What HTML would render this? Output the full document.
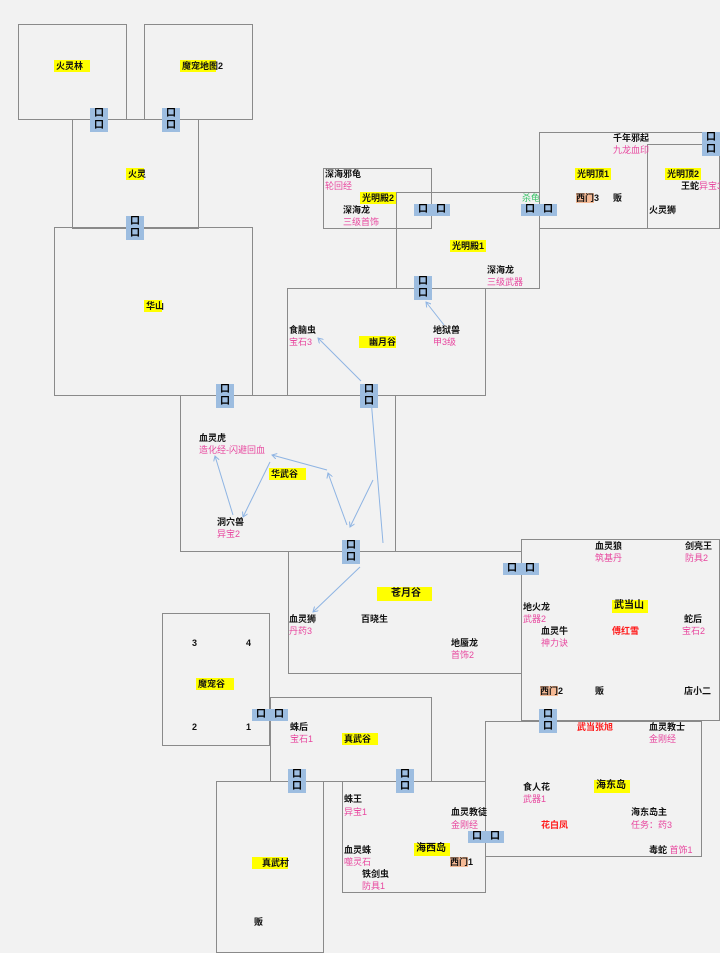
<!DOCTYPE html>
<html><head><meta charset="utf-8"><style>
html,body{margin:0;padding:0}
body{width:720px;height:953px;background:#f2f2f2;position:relative;overflow:hidden;font-family:"Liberation Sans","Noto Sans CJK SC",sans-serif;font-size:9px;font-weight:bold}
.b{position:absolute;border:1px solid #8a8a8a;box-sizing:border-box}
.t{position:absolute;white-space:nowrap;line-height:12px;color:#111}
.p{color:#e8479f;font-weight:normal}
.r{color:#ff1a1a}
.g{color:#3cc46a;font-weight:normal}
.h{position:absolute;background:#ffff00;line-height:12px;height:12px;color:#111;padding-left:2px;box-sizing:border-box;white-space:nowrap;overflow:visible}
.o{background:#f4b995}
.d{position:absolute;background:#9dbde0;}
.d span{position:absolute;width:18px;height:12px;line-height:12px;text-align:center;font-size:10px;color:#000}
svg{position:absolute;left:0;top:0}
</style></head><body>
<!-- boxes -->
<div class="b" style="left:18px;top:24px;width:109px;height:96px"></div>
<div class="b" style="left:144px;top:24px;width:109px;height:96px"></div>
<div class="b" style="left:72px;top:119px;width:127px;height:110px"></div>
<div class="b" style="left:54px;top:227px;width:199px;height:169px"></div>
<div class="b" style="left:396px;top:192px;width:144px;height:97px"></div>
<div class="b" style="left:323px;top:168px;width:109px;height:61px"></div>
<div class="b" style="left:539px;top:132px;width:181px;height:97px"></div>
<div class="b" style="left:647px;top:144px;width:73px;height:85px"></div>
<div class="b" style="left:287px;top:288px;width:199px;height:108px"></div>
<div class="b" style="left:180px;top:395px;width:216px;height:157px"></div>
<div class="b" style="left:288px;top:551px;width:234px;height:123px"></div>
<div class="b" style="left:521px;top:539px;width:199px;height:182px"></div>
<div class="b" style="left:162px;top:613px;width:108px;height:133px"></div>
<div class="b" style="left:270px;top:697px;width:162px;height:85px"></div>
<div class="b" style="left:485px;top:721px;width:217px;height:136px"></div>
<div class="b" style="left:216px;top:781px;width:108px;height:172px"></div>
<div class="b" style="left:342px;top:781px;width:144px;height:112px"></div>

<svg width="720" height="953">
<defs><marker id="a" markerWidth="6" markerHeight="6" refX="5" refY="3" orient="auto"><path d="M0,0 L5,3 L0,6" fill="none" stroke="#8eb4e3" stroke-width="1"/></marker></defs>
<g stroke="#8eb4e3" stroke-width="1" fill="none" marker-end="url(#a)">
<line x1="444" y1="325" x2="426" y2="302"/>
<line x1="361" y1="381" x2="318" y2="338"/>
<line x1="383" y1="543" x2="370" y2="387"/>
<line x1="373" y1="480" x2="350" y2="527"/>
<line x1="347" y1="525" x2="328" y2="473"/>
<line x1="327" y1="470" x2="272" y2="455"/>
<line x1="270" y1="462" x2="243" y2="517"/>
<line x1="233" y1="515" x2="215" y2="456"/>
<line x1="360" y1="567" x2="313" y2="612"/>
</g></svg>

<!-- doors -->
<div class="d" style="left:90px;top:108px;width:18px;height:24px"><span style="top:0">口</span><span style="top:12px">口</span></div>
<div class="d" style="left:162px;top:108px;width:18px;height:24px"><span style="top:0">口</span><span style="top:12px">口</span></div>
<div class="d" style="left:126px;top:216px;width:18px;height:24px"><span style="top:0">口</span><span style="top:12px">口</span></div>
<div class="d" style="left:216px;top:384px;width:18px;height:24px"><span style="top:0">口</span><span style="top:12px">口</span></div>
<div class="d" style="left:360px;top:384px;width:18px;height:24px"><span style="top:0">口</span><span style="top:12px">口</span></div>
<div class="d" style="left:414px;top:276px;width:18px;height:24px"><span style="top:0">口</span><span style="top:12px">口</span></div>
<div class="d" style="left:414px;top:204px;width:36px;height:12px"><span style="left:0">口</span><span style="left:18px">口</span></div>
<div class="d" style="left:521px;top:204px;width:36px;height:12px"><span style="left:0">口</span><span style="left:18px">口</span></div>
<div class="d" style="left:702px;top:132px;width:18px;height:24px"><span style="top:0">口</span><span style="top:12px">口</span></div>
<div class="d" style="left:342px;top:540px;width:18px;height:24px"><span style="top:0">口</span><span style="top:12px">口</span></div>
<div class="d" style="left:503px;top:563px;width:36px;height:12px"><span style="left:0">口</span><span style="left:18px">口</span></div>
<div class="d" style="left:252px;top:709px;width:36px;height:12px"><span style="left:0">口</span><span style="left:18px">口</span></div>
<div class="d" style="left:539px;top:709px;width:18px;height:24px"><span style="top:0">口</span><span style="top:12px">口</span></div>
<div class="d" style="left:288px;top:769px;width:18px;height:24px"><span style="top:0">口</span><span style="top:12px">口</span></div>
<div class="d" style="left:396px;top:769px;width:18px;height:24px"><span style="top:0">口</span><span style="top:12px">口</span></div>
<div class="d" style="left:468px;top:831px;width:36px;height:12px"><span style="left:0">口</span><span style="left:18px">口</span></div>

<!-- labels -->
<div class="h" style="left:54px;top:60px;width:36px">火灵林</div>
<div class="h" style="left:180px;top:60px;width:36px">魔宠地图2</div>
<div class="h" style="left:126px;top:168px;width:18px">火灵</div>
<div class="h" style="left:144px;top:300px;width:18px">华山</div>

<div class="t" style="left:325px;top:168px">深海邪龟</div>
<div class="t p" style="left:325px;top:180px">轮回经</div>
<div class="h" style="left:360px;top:192px;width:36px">光明殿2</div>
<div class="t" style="left:343px;top:204px">深海龙</div>
<div class="t p" style="left:343px;top:216px">三级首饰</div>
<div class="t g" style="left:522px;top:192px">杀龟</div>

<div class="t" style="left:613px;top:132px">千年邪起</div>
<div class="t p" style="left:613px;top:144px">九龙血印</div>
<div class="h" style="left:575px;top:168px;width:36px">光明顶1</div>
<div class="t" style="left:576px;top:192px"><span class="o">西门</span>3</div>
<div class="t" style="left:613px;top:192px">贩</div>
<div class="h" style="left:665px;top:168px;width:36px">光明顶2</div>
<div class="t" style="left:681px;top:180px">王蛇<span class="p">异宝3</span></div>
<div class="t" style="left:649px;top:204px">火灵狮</div>

<div class="h" style="left:450px;top:240px;width:36px">光明殿1</div>
<div class="t" style="left:487px;top:264px">深海龙</div>
<div class="t p" style="left:487px;top:276px">三级武器</div>

<div class="t" style="left:289px;top:324px">食脑虫</div>
<div class="t p" style="left:289px;top:336px">宝石3</div>
<div class="h" style="left:359px;top:336px;width:37px;padding-left:10px">幽月谷</div>
<div class="t" style="left:433px;top:324px">地狱兽</div>
<div class="t p" style="left:433px;top:336px">甲3级</div>

<div class="t" style="left:199px;top:432px">血灵虎</div>
<div class="t p" style="left:199px;top:444px">造化经-闪避回血</div>
<div class="h" style="left:269px;top:468px;width:37px">华武谷</div>
<div class="t" style="left:217px;top:516px">洞穴兽</div>
<div class="t p" style="left:217px;top:528px">异宝2</div>

<div class="h" style="left:377px;top:587px;width:55px;font-size:10px;padding-left:14px;height:14px;line-height:14px">苍月谷</div>
<div class="t" style="left:289px;top:613px">血灵狮</div>
<div class="t p" style="left:289px;top:625px">丹药3</div>
<div class="t" style="left:361px;top:613px">百晓生</div>
<div class="t" style="left:451px;top:637px">地蜃龙</div>
<div class="t p" style="left:451px;top:649px">首饰2</div>

<div class="t" style="left:595px;top:540px">血灵狼</div>
<div class="t p" style="left:595px;top:552px">筑基丹</div>
<div class="t" style="left:685px;top:540px">剑亮王</div>
<div class="t p" style="left:685px;top:552px">防具2</div>
<div class="t" style="left:523px;top:601px">地火龙</div>
<div class="t p" style="left:523px;top:613px">武器2</div>
<div class="h" style="left:612px;top:600px;width:36px;font-size:10px;height:13px">武当山</div>
<div class="t" style="left:684px;top:613px">蛇后</div>
<div class="t p" style="left:682px;top:625px">宝石2</div>
<div class="t" style="left:541px;top:625px">血灵牛</div>
<div class="t p" style="left:541px;top:637px">神力诀</div>
<div class="t r" style="left:612px;top:625px">傅红雪</div>
<div class="t" style="left:540px;top:685px"><span class="o">西门</span>2</div>
<div class="t" style="left:595px;top:685px">贩</div>
<div class="t" style="left:684px;top:685px">店小二</div>

<div class="t" style="left:192px;top:637px">3</div>
<div class="t" style="left:246px;top:637px">4</div>
<div class="h" style="left:196px;top:678px;width:38px">魔宠谷</div>
<div class="t" style="left:192px;top:721px">2</div>
<div class="t" style="left:246px;top:721px">1</div>

<div class="t" style="left:290px;top:721px">蛛后</div>
<div class="t p" style="left:290px;top:733px">宝石1</div>
<div class="h" style="left:342px;top:733px;width:36px">真武谷</div>

<div class="t r" style="left:577px;top:721px">武当张旭</div>
<div class="t" style="left:649px;top:721px">血灵教士</div>
<div class="t p" style="left:649px;top:733px">金刚经</div>
<div class="t" style="left:523px;top:781px">食人花</div>
<div class="t p" style="left:523px;top:793px">武器1</div>
<div class="h" style="left:594px;top:780px;width:36px;font-size:10px;height:13px">海东岛</div>
<div class="t" style="left:631px;top:806px">海东岛主</div>
<div class="t p" style="left:631px;top:819px">任务：药3</div>
<div class="t r" style="left:541px;top:819px">花白凤</div>
<div class="t" style="left:649px;top:844px">毒蛇 <span class="p">首饰1</span></div>

<div class="t" style="left:344px;top:793px">蛛王</div>
<div class="t p" style="left:344px;top:806px">异宝1</div>
<div class="t" style="left:451px;top:806px">血灵教徒</div>
<div class="t p" style="left:451px;top:819px">金刚经</div>
<div class="t" style="left:344px;top:844px">血灵蛛</div>
<div class="t p" style="left:344px;top:856px">噬灵石</div>
<div class="h" style="left:414px;top:843px;width:36px;font-size:10px;height:13px">海西岛</div>
<div class="t" style="left:450px;top:856px"><span class="o">西门</span>1</div>
<div class="t" style="left:362px;top:868px">铁剑虫</div>
<div class="t p" style="left:362px;top:880px">防具1</div>

<div class="h" style="left:252px;top:857px;width:36px;padding-left:10px">真武村</div>
<div class="t" style="left:254px;top:916px">贩</div>
</body></html>
